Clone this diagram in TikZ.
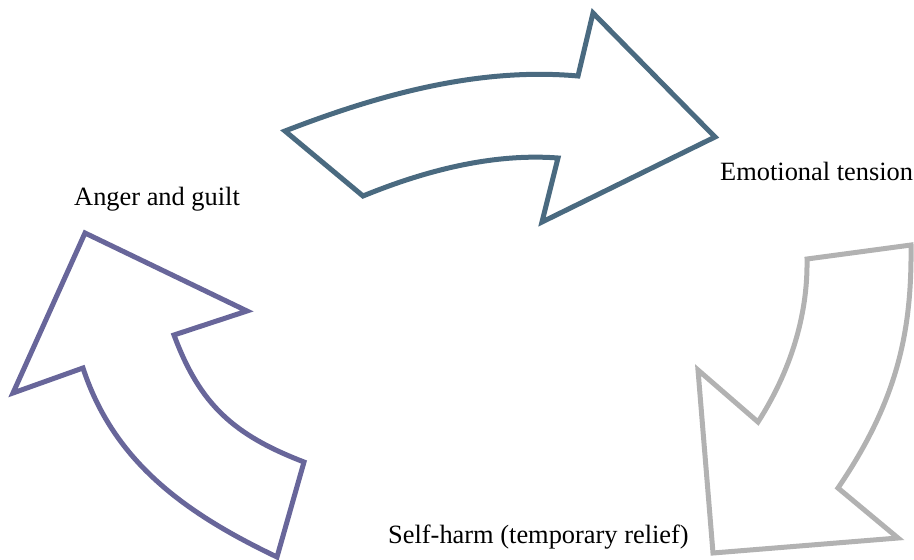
\documentclass[tikz,border=0pt]{standalone}
\usepackage{fontspec}
\setmainfont{Liberation Serif}
\definecolor{tealarrow}{HTML}{4A6A80}
\definecolor{greyarrow}{HTML}{B2B2B2}
\definecolor{purplearrow}{HTML}{68669A}
\begin{document}
\begin{tikzpicture}[line cap=butt,line join=miter,x=1pt,y=-1pt,
		arrowline/.style={line width=5pt},
		label/.style={anchor=base west,inner sep=0pt,font=\fontsize{26.4pt}{30pt}\selectfont}]
		\useasboundingbox (0,0) rectangle (914,560);
		
		% emotional tension
		\draw[arrowline,tealarrow] (285,131) .. controls (378,95) and (478,67) .. (578,76)
			-- (593,13) -- (715,137) -- (542,222) -- (558,158)
			.. controls (492,153) and (424,171) .. (363,196) -- cycle;
		
		% self-harm
		\draw[arrowline,greyarrow] (807,259) -- (911,245)
			.. controls (912,330) and (898,400) .. (838,488)
			-- (898,538) -- (713,553) -- (698,370) -- (758,422)
			.. controls (790,372) and (808,316) .. cycle;
		
		% anger and guilt
		\draw[arrowline,purplearrow] (85,233) -- (247,311) -- (174,335)
			.. controls (200,405) and (234,435) .. (304,462)
			-- (277,557)
			.. controls (187,514) and (114,463) .. (83,368)
			-- (13,393) -- cycle;
		
		\node[label] (anger) at (74,205) {Anger and guilt};
		\node[label] (tension) at (720,180) {Emotional tension};
		\node[label] (selfharm) at (388,543) {Self-harm (temporary relief)};
	\end{tikzpicture}
\end{document}
